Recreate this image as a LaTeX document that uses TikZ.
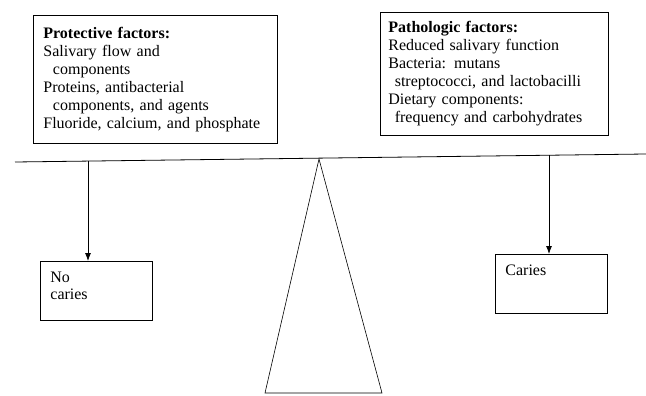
\documentclass[tikz,border=0pt]{standalone}
\usepackage{fontspec}
\setmainfont{Liberation Serif}
\usetikzlibrary{arrows.meta}

\begin{document}
\begin{tikzpicture}[> = {Latex[length = 8pt, width = 6pt]}, x = 1pt, y = -1pt,
	factors/.style = {draw, thick, rectangle, anchor = north west, align = left, font = \fontsize{16}{18}\selectfont},
	outcome/.style = {draw, thick, rectangle, anchor = north west, align = left, inner xsep = 10pt, inner ysep = 6pt, text width = 92pt, text height = 15pt, text depth = 32pt, font = \fontsize{16}{17}\selectfont},
	hang/.style = {->, thick},
	beam/.style = {thick}]

	\useasboundingbox (0, 0) rectangle (646, 396);

	% Factors
	
	\node [factors, minimum width = 244pt, minimum height = 128pt, text width = 224pt, inner xsep = 10pt] (protective) at (33, 15) {\textbf{Protective factors:}\\
		Salivary flow and\\
		\hspace*{0.6em}components\\
		Proteins, antibacterial\\
		\hspace*{0.6em}components, and agents\\
		Fluoride, calcium, and phosphate};
	\node [factors, minimum width = 228pt, minimum height = 123pt, text width = 212pt, inner xsep = 8pt] (pathologic) at (380, 12) {\textbf{Pathologic factors:}\\
		Reduced salivary function\\
		Bacteria: mutans\\
		\hspace*{0.4em}streptococci, and lactobacilli\\
		Dietary components:\\
		\hspace*{0.4em}frequency and carbohydrates};
	
	% Beam and pivot
	
	\coordinate (beamleft) at (15, 162);
	\coordinate (beamright) at (646, 154);
	\draw [beam] (beamleft) -- (beamright);
	
	\coordinate (apex) at (319, 159);
	\coordinate (baseleft) at (265, 393);
	\coordinate (baseright) at (382, 393);
	\draw [semithick] (apex) -- (baseleft) -- (baseright) -- cycle;
	
	% Outcomes
	
	\node [outcome] (nocaries) at (40, 261) {No\\caries};
	\node [outcome] (caries) at (495, 254) {Caries};
	
	\coordinate (hangleft) at (88, 161);
	\coordinate (hangright) at (549, 155);
	\draw [hang] (hangleft) -- (hangleft |- nocaries.north);
	\draw [hang] (hangright) -- (hangright |- caries.north);

\end{tikzpicture}
\end{document}
